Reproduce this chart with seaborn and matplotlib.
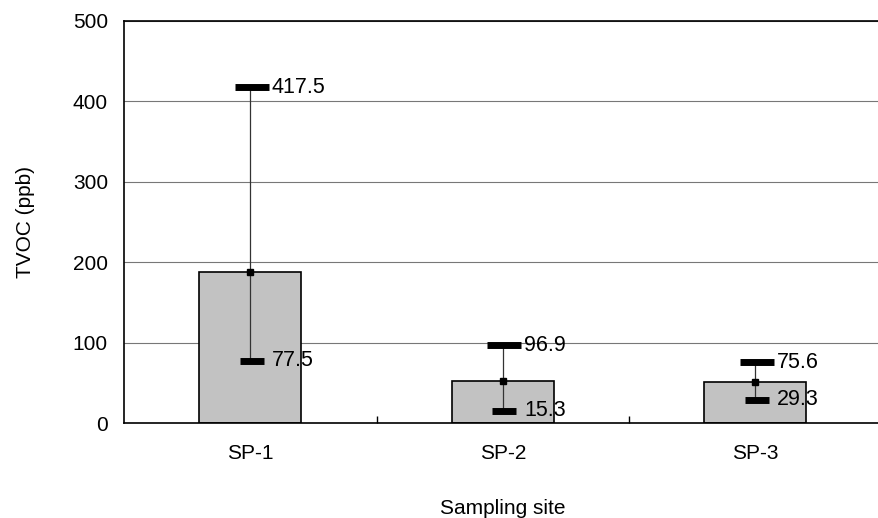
import seaborn as sns
import matplotlib.pyplot as plt
import pandas as pd

# Dados
sites = ["SP-1", "SP-2", "SP-3"]
tvoc_mean = [188, 53, 51]
tvoc_max = [417.5, 96.9, 75.6]
tvoc_min = [77.5, 15.3, 29.3]

df = pd.DataFrame({"site": sites, "tvoc": tvoc_mean})

sns.set_theme(style="white")
plt.rcParams["font.family"] = ["Liberation Sans", "DejaVu Sans"]
plt.rcParams["text.color"] = "black"
plt.rcParams["axes.labelcolor"] = "black"
plt.rcParams["xtick.color"] = "black"
plt.rcParams["ytick.color"] = "black"

fig = plt.figure(figsize=(8.79, 5.18), dpi=100)
ax = fig.add_axes([0.141, 0.183, 0.862, 0.777])

sns.barplot(data=df, x="site", y="tvoc", color="#c2c2c2", width=0.405,
            edgecolor="black", linewidth=1.2, saturation=1, ax=ax, zorder=2)

# Linhas de máximo/mínimo
for i in range(len(sites)):
    ax.vlines(i, tvoc_min[i], tvoc_max[i], color="#333333", linewidth=0.9, zorder=3)
    ax.plot(i + 0.006, tvoc_max[i], marker="_", markersize=24, markeredgewidth=5, color="black", zorder=4)
    ax.plot(i + 0.006, tvoc_min[i], marker="_", markersize=17, markeredgewidth=5, color="black", zorder=4)
    ax.plot(i, tvoc_mean[i], marker="s", markersize=5, color="black", zorder=4)
    ax.text(i + 0.085, tvoc_max[i], f"{tvoc_max[i]:.1f}", va="center", ha="left", fontsize=15.5, zorder=5)
    ax.text(i + 0.085, tvoc_min[i], f"{tvoc_min[i]:.1f}", va="center", ha="left", fontsize=15.5, zorder=5)

ax.set_ylim(0, 500)
ax.set_xlim(-0.5, 2.5)
ax.set_yticks([0, 100, 200, 300, 400, 500])
ax.yaxis.grid(True, color="#777777", linewidth=0.8)
ax.set_axisbelow(True)

ax.set_xticks([0.5, 1.5], minor=True)
ax.tick_params(axis="x", which="minor", direction="in", length=5, color="black", bottom=True)
ax.tick_params(axis="x", which="major", length=0, labelsize=15, pad=15)
ax.tick_params(axis="y", which="major", length=0, labelsize=15, pad=11.5)

for s in ["left", "bottom", "top"]:
    ax.spines[s].set_color("black")
    ax.spines[s].set_linewidth(1.2)
ax.spines["right"].set_visible(False)

ax.set_xlabel("Sampling site", fontsize=15, labelpad=26)
ax.set_ylabel("TVOC (ppb)", fontsize=15, labelpad=27)

plt.savefig("out.png", dpi=100)
